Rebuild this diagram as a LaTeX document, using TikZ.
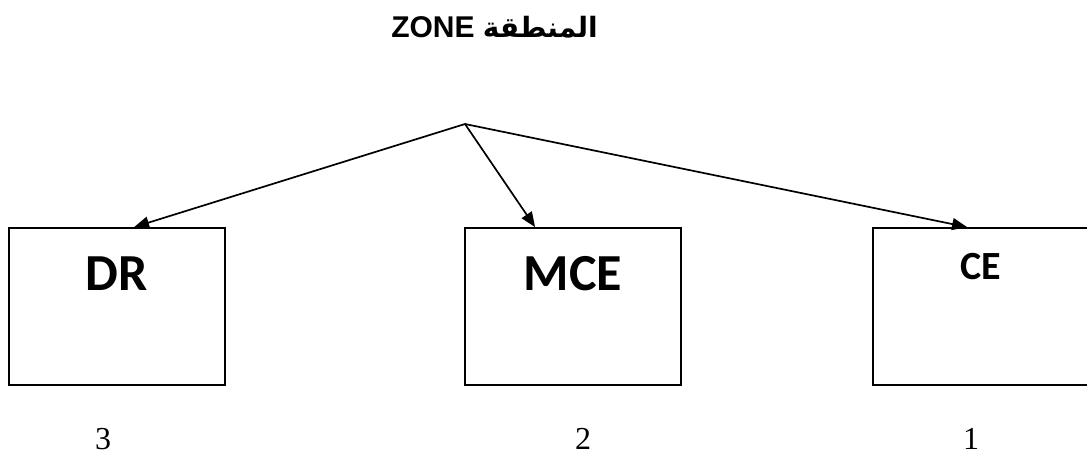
\documentclass[tikz,border=0pt]{standalone}
\usepackage{fontspec}
\setmainfont{Liberation Serif}
\newfontfamily\titlefont{Liberation Sans}
\newfontfamily\boxfont{Carlito}
\newfontfamily\arabicfont[Script=Arabic]{DejaVu Sans}
\TeXXeTstate=1
\usetikzlibrary{arrows.meta}
\tikzset{
  unitbox/.style={draw, line width=1.8pt, rectangle, inner sep=0pt,
    minimum width=216pt, minimum height=157pt},
  boxlabel/.style={anchor=base, inner sep=0pt, font=\boxfont\bfseries},
  rank/.style={anchor=base, inner sep=0pt, font=\fontsize{32}{32}\selectfont},
  branch/.style={line width=1.7pt, -{Triangle[length=15pt,width=12pt]}}
}
\begin{document}
\begin{tikzpicture}[x=1pt, y=-1pt]
  \useasboundingbox (0,0) rectangle (1087,459);
  \clip (0,0) rectangle (1087,459);

  % heading
  \node[anchor=base, inner sep=0pt] (title) at (494.5,37)
    {\titlefont\bfseries\fontsize{30}{30}\selectfont ZONE\ {\arabicfont\fontsize{28}{28}\selectfont\beginR المنطقة\endR}};

  % the three units
  \node[unitbox] (dr)  at (117,306.5) {};
  \node[unitbox] (mce) at (573,306.5) {};
  \node[unitbox, minimum width=217pt] (ce) at (981.5,306.5) {};

  \node[boxlabel, font=\boxfont\bfseries\fontsize{52}{52}\selectfont] (drlabel)  at (117,290) {DR};
  \node[boxlabel, font=\boxfont\bfseries\fontsize{52}{52}\selectfont] (mcelabel) at (573,290) {MCE};
  \node[boxlabel, font=\boxfont\bfseries\fontsize{40}{40}\selectfont] (celabel)  at (981,279) {CE};

  % ranks under the units
  \node[rank] (r3) at (103,449) {3};
  \node[rank] (r2) at (583,449) {2};
  \node[rank] (r1) at (971,449) {1};

  % branching point and links
  \coordinate (hub) at (465,124);
  \draw[branch] (hub) -- ([xshift=126pt]dr.north west);
  \draw[branch] (hub) -- ([xshift=71pt]mce.north west);
  \draw[branch] (hub) -- ([xshift=95pt]ce.north west);
\end{tikzpicture}
\end{document}
